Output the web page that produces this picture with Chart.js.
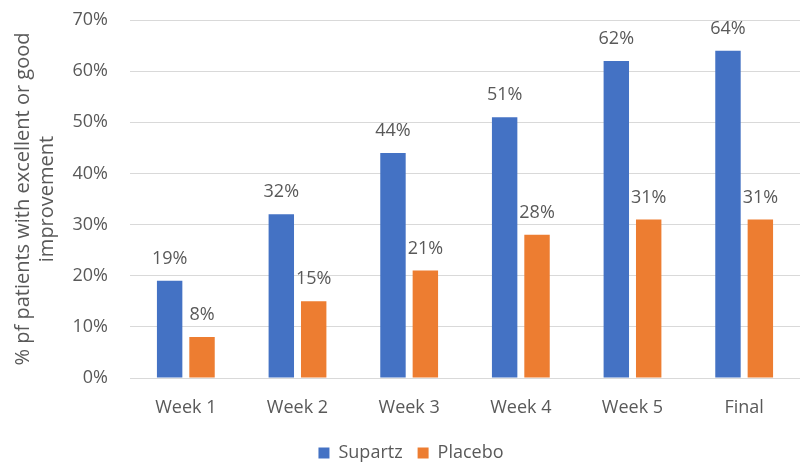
<!DOCTYPE html>
<html>
<head>
<meta charset="utf-8">
<script src="https://cdn.jsdelivr.net/npm/chart.js@4"></script>
<style>
  html, body { margin: 0; padding: 0; background: #fff; }
  canvas { display: block; }
</style>
</head>
<body>
<canvas id="chart" width="800" height="464"></canvas>
<script>
const categories = ['Week 1', 'Week 2', 'Week 3', 'Week 4', 'Week 5', 'Final'];
const supartz = [19, 32, 44, 51, 62, 64];
const placebo = [8, 15, 21, 28, 31, 31];
const yTicks = [0, 10, 20, 30, 40, 50, 60, 70];

const FONT = "'Open Sans', 'Noto Sans', sans-serif";
const GREY = '#595959';

// étiquettes de valeur au-dessus des barres
const valueLabels = {
  id: 'valueLabels',
  afterDatasetsDraw(chart) {
    const ctx = chart.ctx;
    ctx.save();
    ctx.font = '18px ' + FONT;
    ctx.fillStyle = GREY;
    ctx.textAlign = 'center';
    ctx.textBaseline = 'bottom';
    chart.data.datasets.forEach((ds, i) => {
      chart.getDatasetMeta(i).data.forEach((bar, j) => {
        ctx.fillText(ds.data[j] + '%', bar.x, bar.y - 13);
      });
    });
    ctx.restore();
  }
};

// décale un peu la légende vers la droite
const legendShift = {
  id: 'legendShift',
  afterLayout(chart) {
    chart.legend.left += 11;
    chart.legend.right += 11;
  }
};

new Chart(document.getElementById('chart'), {
  type: 'bar',
  data: {
    labels: categories,
    datasets: [
      { label: 'Supartz', data: supartz, backgroundColor: '#4472c4' },
      { label: 'Placebo', data: placebo, backgroundColor: '#ed7d31' }
    ]
  },
  options: {
    responsive: false,
    animation: false,
    layout: { padding: { top: 20, right: 0, left: 0, bottom: -8 } },
    datasets: { bar: { categoryPercentage: 0.58, barPercentage: 0.785 } },
    plugins: {
      legend: {
        position: 'bottom',
        labels: {
          boxWidth: 11, boxHeight: 11, padding: 15,
          color: GREY, font: { family: FONT, size: 18 }
        }
      },
      tooltip: { enabled: false }
    },
    scales: {
      x: {
        grid: { display: false },
        border: { color: '#d9d9d9' },
        ticks: { color: GREY, font: { family: FONT, size: 18 }, padding: 11 },
        afterFit(s) { s.height = 51; }
      },
      y: {
        min: 0, max: 70,
        afterBuildTicks(s) { s.ticks = yTicks.map(v => ({ value: v })); },
        grid: { color: '#d9d9d9', drawTicks: false },
        border: { display: false },
        ticks: {
          color: GREY, font: { family: FONT, size: 18 }, padding: 22,
          callback: v => v + '%'
        },
        title: {
          display: true,
          text: ['% pf patients with excellent or good', 'improvement'],
          color: GREY, font: { family: FONT, size: 20 },
          padding: { top: 11, bottom: 0 }
        },
        afterFit(s) {
          s.width = 130;
          s.paddingTop = 0;
          s.paddingBottom = 0;
        }
      }
    }
  },
  plugins: [valueLabels, legendShift]
});
</script>
</body>
</html>
